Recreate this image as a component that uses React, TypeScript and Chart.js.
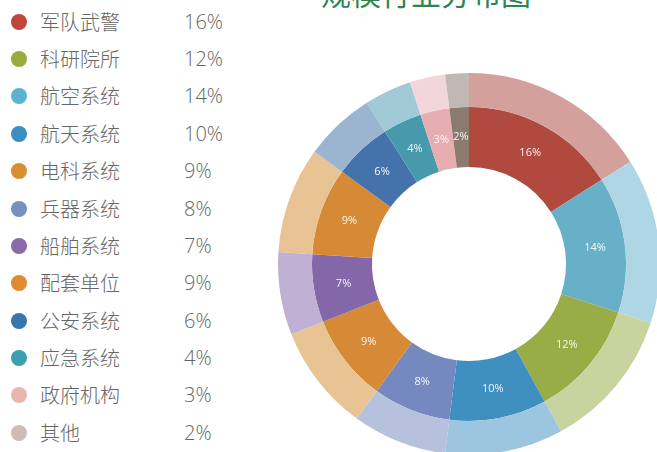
import React, { useEffect, useRef } from "react";
import { Chart, registerables } from "chart.js";

Chart.register(...registerables);

const titleText = "规模行业分布图";

// Doughnut data (clockwise from 12 o'clock)
const chartLabels = ["军队武警", "航空系统", "科研院所", "航天系统", "兵器系统", "配套单位", "船舶系统", "电科系统", "公安系统", "应急系统", "政府机构", "其他"];
const chartValues = [16, 14, 12, 10, 8, 9, 7, 9, 6, 4, 3, 2];
const innerColors = ["#b04a3f", "#67b0c8", "#9aac45", "#3f8fc0", "#7589c0", "#d68a35", "#8467a8", "#d68a35", "#4373aa", "#469aab", "#e6aeb0", "#8b7a6e"];
const outerColors = ["#d4a09b", "#afd6e4", "#c9d3a0", "#9cc5df", "#b5c1dd", "#e8c393", "#c0b1d4", "#e8c393", "#9bb5d1", "#a2cad6", "#f2d6d9", "#c2b8b3"];

// Legend (left column order)
const legendNames = ["军队武警", "科研院所", "航空系统", "航天系统", "电科系统", "兵器系统", "船舶系统", "配套单位", "公安系统", "应急系统", "政府机构", "其他"];
const legendPercents = ["16%", "12%", "14%", "10%", "9%", "8%", "7%", "9%", "6%", "4%", "3%", "2%"];
const legendColors = ["#c0463b", "#9aab3c", "#5ab4cf", "#3a8fc0", "#d98e2f", "#7491c0", "#8b6aa8", "#e08a30", "#3676ab", "#3aa0b0", "#eab4b0", "#cdbdb6"];

const labelPlugin = {
  id: "ringLabels",
  afterDatasetsDraw(chart: any) {
    const ctx = chart.ctx;
    const meta = chart.getDatasetMeta(1);
    const data = chart.data.datasets[1].data;
    ctx.save();
    ctx.fillStyle = "rgba(255,255,255,0.92)";
    ctx.font = "11px 'Open Sans', sans-serif";
    ctx.textAlign = "center";
    ctx.textBaseline = "middle";
    meta.data.forEach((arc: any, i: number) => {
      const p = arc.tooltipPosition();
      ctx.fillText(data[i] + "%", p.x, p.y);
    });
    ctx.restore();
  },
};

function DoughnutChart() {
  const ref = useRef<HTMLCanvasElement>(null);
  useEffect(() => {
    if (!ref.current) return;
    const chart = new Chart(ref.current, {
      type: "doughnut",
      data: {
        labels: chartLabels,
        datasets: [
          { data: chartValues, backgroundColor: outerColors, borderWidth: 0, weight: 34, hoverOffset: 0, offset: 0 } as any,
          { data: chartValues, backgroundColor: innerColors, borderWidth: 0, weight: 60, hoverOffset: 0, offset: 0 } as any,
        ],
      },
      options: {
        responsive: false,
        animation: false,
        radius: 191,
        cutout: "50.8%",
        layout: { padding: 0 },
        plugins: { legend: { display: false }, tooltip: { enabled: false }, title: { display: false } },
      } as any,
      plugins: [labelPlugin],
    });
    return () => chart.destroy();
  }, []);
  return (
    <canvas
      ref={ref}
      width={400}
      height={400}
      style={{ position: "absolute", left: 469 - 200, top: 264 - 200, width: 400, height: 400 }}
    />
  );
}

export default function App() {
  const rowStart = 21.7;
  const rowGap = 37.36;
  return (
    <div style={{ position: "fixed", left: 0, top: 0, width: 657, height: 452, overflow: "hidden", background: "#fff" }}>
      <DoughnutChart />
      <div
        style={{
          position: "absolute",
          left: 321,
          top: -23,
          fontFamily: "'Noto Sans CJK SC', sans-serif",
          fontSize: 30,
          lineHeight: "30px",
          color: "#2f8550",
          whiteSpace: "nowrap",
        }}
      >
        {titleText}
      </div>
      {legendNames.map((name, i) => {
        const cy = rowStart + i * rowGap;
        return (
          <div key={name} style={{ position: "absolute", left: 0, top: cy - 15, height: 30, width: 260 }}>
            <div
              style={{
                position: "absolute",
                left: 11,
                top: 7,
                width: 16,
                height: 16,
                borderRadius: 8,
                background: legendColors[i],
              }}
            />
            <div
              style={{
                position: "absolute",
                left: 40,
                top: 0,
                fontFamily: "'Noto Sans CJK SC', sans-serif",
                fontWeight: 300,
                fontSize: 20,
                lineHeight: "30px",
                color: "#666",
                whiteSpace: "nowrap",
              }}
            >
              {name}
            </div>
            <div
              style={{
                position: "absolute",
                left: 184,
                top: 0,
                fontFamily: "'Open Sans', sans-serif",
                fontWeight: 300,
                fontSize: 20,
                lineHeight: "30px",
                color: "#666",
                whiteSpace: "nowrap",
              }}
            >
              {legendPercents[i]}
            </div>
          </div>
        );
      })}
    </div>
  );
}
